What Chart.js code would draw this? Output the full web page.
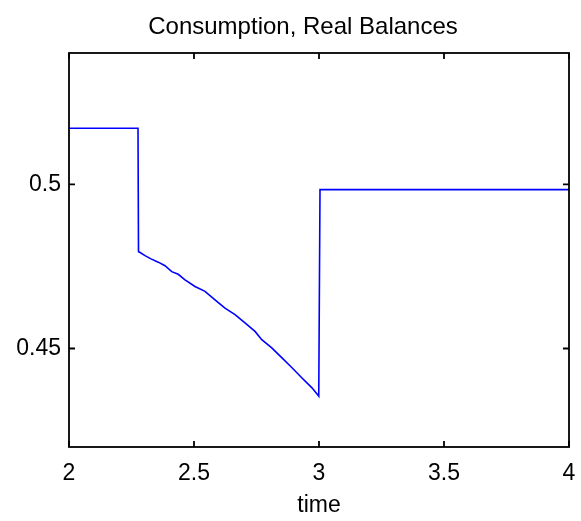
<!DOCTYPE html>
<html>
<head>
<meta charset="utf-8">
<script src="https://cdn.jsdelivr.net/npm/chart.js@4"></script>
<style>
    html, body { margin: 0; padding: 0; background: #fff; }
    #chart { display: block; }
</style>
</head>
<body>
<canvas id="chart" width="581" height="521"></canvas>
<script>
// Series values (time, consumption / real balances)
const times = [2, 2.276, 2.278, 2.283, 2.304, 2.328, 2.357, 2.384, 2.411, 2.437, 2.464, 2.504,
    2.544, 2.584, 2.624, 2.664, 2.704, 2.744, 2.771, 2.811, 2.851, 2.891, 2.931, 2.971, 2.997,
    2.999, 3.004, 4];
const values = [0.5171, 0.5171, 0.4795, 0.4793, 0.4783, 0.4773, 0.4763, 0.4752, 0.4734, 0.4726, 0.4709, 0.4689,
    0.4674, 0.4648, 0.4623, 0.4603, 0.4578, 0.4552, 0.4527, 0.4502, 0.4472, 0.4442, 0.4411, 0.4381, 0.4357,
    0.4355, 0.4984, 0.4984];

// Axes
const xTicks = [2, 2.5, 3, 3.5, 4];
const yTicks = [0.45, 0.5];
const xRange = [2, 4];
const yRange = [0.42, 0.54];

const FONT = '"Liberation Sans", Arial, Helvetica, sans-serif';

// MATLAB style box with inward ticks
const boxPlugin = {
    id: 'box',
    afterLayout(chart) {
        // title sits a little right of the canvas centre in the original
        if (chart.titleBlock) chart.titleBlock.left = 37;
    },
    afterDraw(chart) {
        const ctx = chart.ctx;
        const area = chart.chartArea;
        const x = chart.scales.x, y = chart.scales.y;
        const len = 6;
        ctx.save();
        ctx.strokeStyle = '#000';
        ctx.lineWidth = 1.8;
        ctx.strokeRect(area.left, area.top, area.right - area.left, area.bottom - area.top);
        ctx.beginPath();
        xTicks.forEach(v => {
            const px = x.getPixelForValue(v);
            ctx.moveTo(px, area.bottom); ctx.lineTo(px, area.bottom - len);
            ctx.moveTo(px, area.top); ctx.lineTo(px, area.top + len);
        });
        yTicks.forEach(v => {
            const py = y.getPixelForValue(v);
            ctx.moveTo(area.left, py); ctx.lineTo(area.left + len, py);
            ctx.moveTo(area.right, py); ctx.lineTo(area.right - len, py);
        });
        ctx.stroke();
        ctx.restore();
    }
};

new Chart(document.getElementById('chart'), {
    type: 'line',
    data: {
        datasets: [{
            data: times.map((t, i) => ({ x: t, y: values[i] })),
            borderColor: '#0000ff',
            borderWidth: 1.6,
            pointRadius: 0,
            tension: 0,
            fill: false
        }]
    },
    options: {
        responsive: false,
        animation: false,
        layout: { padding: { left: 0, right: 12, top: 0, bottom: 0 } },
        plugins: {
            legend: { display: false },
            tooltip: { enabled: false },
            title: {
                display: true,
                text: 'Consumption, Real Balances',
                color: '#000',
                font: { family: FONT, size: 24, weight: 'normal' },
                padding: { top: 13, bottom: 11.2 }
            }
        },
        scales: {
            x: {
                type: 'linear',
                min: xRange[0],
                max: xRange[1],
                grid: { display: false, drawTicks: false },
                border: { display: false },
                afterBuildTicks(scale) { scale.ticks = xTicks.map(v => ({ value: v })); },
                afterFit(scale) {
                    scale.height = 74;
                    scale.paddingLeft = 0;
                    scale.paddingRight = 0;
                },
                ticks: {
                    color: '#000',
                    padding: 13,
                    maxRotation: 0,
                    font: { family: FONT, size: 23 },
                    callback: v => String(v)
                },
                title: {
                    display: true,
                    text: 'time',
                    color: '#000',
                    font: { family: FONT, size: 23 },
                    padding: { top: 0, bottom: 2 }
                }
            },
            y: {
                type: 'linear',
                min: yRange[0],
                max: yRange[1],
                grid: { display: false, drawTicks: false },
                border: { display: false },
                afterBuildTicks(scale) { scale.ticks = yTicks.map(v => ({ value: v })); },
                afterFit(scale) {
                    scale.width = 69;
                    scale.paddingTop = 0;
                    scale.paddingBottom = 0;
                },
                ticks: {
                    color: '#000',
                    padding: 8,
                    font: { family: FONT, size: 23 },
                    callback: v => String(v)
                }
            }
        }
    },
    plugins: [boxPlugin]
});
</script>
</body>
</html>
